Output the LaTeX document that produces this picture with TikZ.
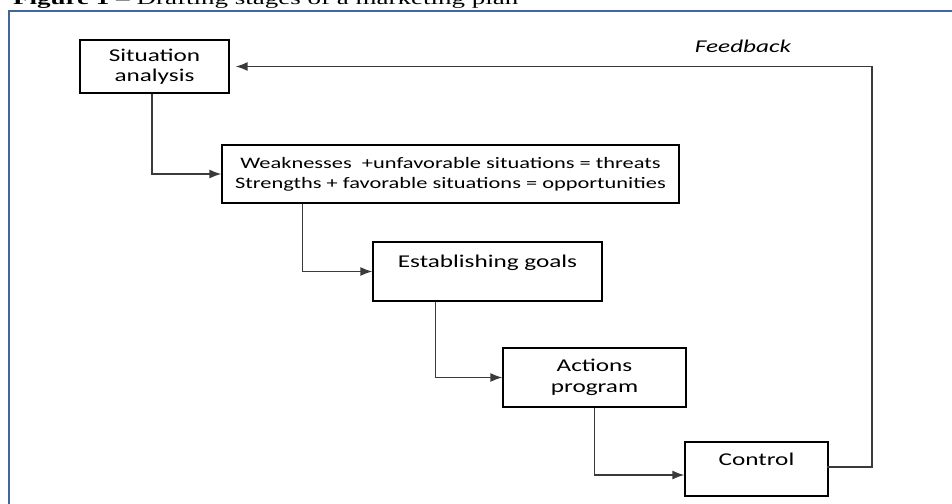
\documentclass[tikz,border=0pt]{standalone}
\usepackage{fontspec}
\setmainfont{Liberation Serif}
\newfontfamily\boxfont[FakeStretch=1.4]{Carlito}
\newfontfamily\capfont[FakeStretch=1.5]{Liberation Serif}
\usetikzlibrary{arrows.meta}
\definecolor{framecol}{HTML}{44649C}
\definecolor{linecol}{HTML}{3A3A3A}
\begin{document}
\begin{tikzpicture}[x=1pt,y=-1pt,
    stage/.style={draw, line width=1.2pt, align=center, inner sep=0pt,
      font=\boxfont\fontsize{18}{20.5}\selectfont},
    link/.style={draw=linecol, line width=1.6pt, -{Latex[length=12pt,width=9pt]}}]
    \useasboundingbox (0,0) rectangle (952,503);
    \clip (0,0) rectangle (952,503);
    \node[anchor=base west, inner sep=0pt, font=\capfont\fontsize{18}{20}\selectfont] (caption) at (13,5)
        {\textbf{Figure 1 –} Drafting stages of a marketing plan};
    \draw[framecol, line width=1.4pt] (9,510) -- (9,11) -- (960,11);
    \node[stage, minimum width=149pt, minimum height=53pt] (sit) at (154.5,66.5) {Situation\\analysis};
    \node[stage, minimum width=457pt, minimum height=58pt, font=\boxfont\fontsize{16}{20}\selectfont] (swot) at (450.5,174)
        {Weaknesses\ \ +unfavorable situations = threats\\Strengths + favorable situations = opportunities};
    \node[stage, minimum width=229pt, minimum height=59pt] (goals) at (487.5,271.5) {Establishing goals\\~};
    \node[stage, minimum width=183pt, minimum height=59pt] (act) at (594.5,377.5) {Actions\\program};
    \node[stage, minimum width=143pt, minimum height=54pt] (ctrl) at (756.5,469) {Control\\~};
    \node[font=\boxfont\itshape\fontsize{18}{20}\selectfont] (fblabel) at (743,46) {Feedback};
    \coordinate (fbcorner) at (872,467);
    \draw[link] ([xshift=-2.5pt]sit.south) |- (swot.west);
    \draw[link] ([xshift=81pt]swot.south west) |- (goals.west);
    \draw[link] ([xshift=63pt]goals.south west) |- (act.west);
    \draw[link] (act.south) |- ([yshift=-6pt]ctrl.west);
    \draw[link, shorten >=6pt] ([xshift=-2pt]ctrl.east |- fbcorner) -- (fbcorner) |- (sit.east);
\end{tikzpicture}
\end{document}
